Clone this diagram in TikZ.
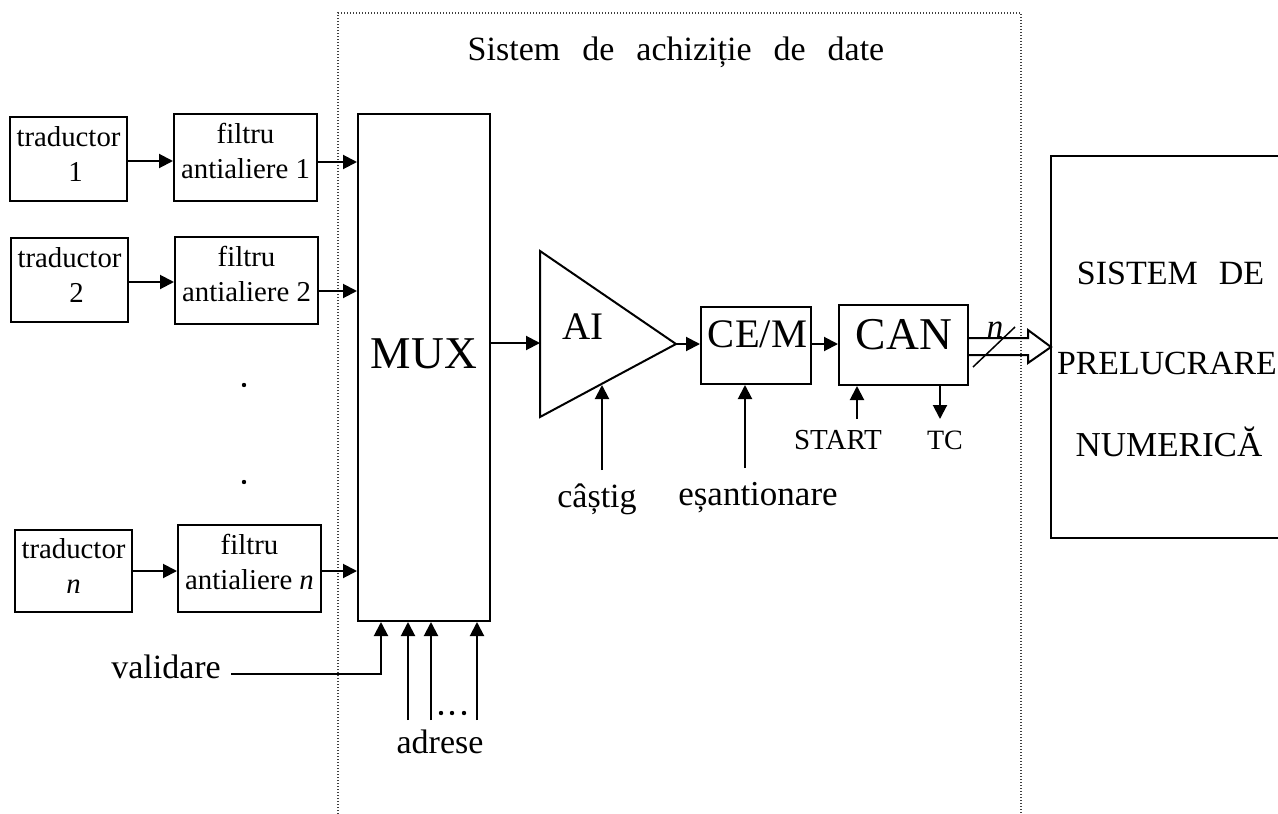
\documentclass[tikz,border=0pt]{standalone}
\usepackage{fontspec}
\setmainfont{Liberation Serif}
\usetikzlibrary{arrows.meta,calc}
\newcommand{\fsz}[1]{\fontsize{#1}{#1}\selectfont}
\tikzset{
  blk/.style={draw=black,line width=2pt,inner sep=0pt,align=center},
  trd/.style={font=\fontsize{28.8}{35}\selectfont,text depth=9pt},
  fil/.style={font=\fontsize{28.8}{35}\selectfont,text depth=14pt},
  lbl/.style={inner sep=0pt,anchor=base},
  arr/.style={line width=2pt,-{Triangle[length=14pt,width=14pt]}},
  dotb/.style={line width=1.1pt,dash pattern=on 1.2pt off 1.8pt,black!75},
}
\newcommand{\bxt}[7][]{% style,name,x1,y1,x2,y2,text
  \node[blk,#1,minimum width=#5pt-#3pt,minimum height=#6pt-#4pt] (#2) at ({(#3+#5)/2},{(#4+#6)/2}) {#7};}
\newcommand{\lb}[4]{\node[lbl] (#1) at (#2,#3) {#4};}
\begin{document}
\begin{tikzpicture}[x=1pt,y=-1pt]
\useasboundingbox (0,0) rectangle (1278,814);
\clip (0,0) rectangle (1278,814);
% acquisition frame
\coordinate (fa) at (338,814); \coordinate (fb) at (338,13);
\coordinate (fc) at (1021,13); \coordinate (fd) at (1021,814);
\draw[dotb] (fa) -- (fb) -- (fc) -- (fd);
\lb{title}{676}{60}{\fsz{34}\spaceskip=22pt Sistem de achiziție de date}
% boxes
\bxt[trd]{tr1}{10}{117}{127}{201}{traductor\\\hspace*{14pt}1}
\bxt[fil]{f1}{174}{114}{317}{201}{filtru\\antialiere 1}
\bxt[trd]{tr2}{11}{238}{128}{322}{traductor\\\hspace*{14pt}2}
\bxt[fil]{f2}{175}{237}{318}{324}{filtru\\antialiere 2}
\bxt[trd]{trn}{15}{530}{132}{612}{traductor\\\textit{n}}
\bxt[fil]{fn}{178}{525}{321}{612}{filtru\\antialiere \textit{n}}
\bxt{mux}{358}{114}{490}{621}{}
\lb{muxl}{424}{368}{\fsz{45.5}MUX}
\bxt{ce}{701}{307}{811}{384}{}
\lb{cel}{757.5}{347}{\fsz{40.5}CE/M}
\bxt{can}{839}{305}{968}{385}{}
\lb{canl}{904}{349}{\fsz{45.5}CAN}
% amplifier
\coordinate (aia) at (540,251); \coordinate (aib) at (540,417); \coordinate (aic) at (676,344);
\draw[line width=2pt,line join=miter] (aia) -- (aic) -- (aib) -- cycle;
\lb{ai}{583}{339}{\fsz{39}AI}
% processing block (cut by the page edge)
\coordinate (sa) at (1300,156); \coordinate (sb) at (1051,156);
\coordinate (sc) at (1051,538); \coordinate (sd) at (1300,538);
\draw[line width=2pt] (sa) -- (sb) -- (sc) -- (sd);
\lb{s1}{1170.5}{284}{\fsz{34}\spaceskip=21pt SISTEM DE}
\lb{s2}{1167}{374}{\fsz{33.8}PRELUCRARE}
\lb{s3}{1169}{456}{\fsz{35}NUMERICĂ}
% signal arrows
\draw[arr] (tr1.east |- 0,161) -- (f1.west |- 0,161);
\draw[arr] (f1.east |- 0,162) -- (mux.west |- 0,162);
\draw[arr] (tr2.east |- 0,282) -- (f2.west |- 0,282);
\draw[arr] (f2.east |- 0,291) -- (mux.west |- 0,291);
\draw[arr] (trn.east |- 0,571) -- (fn.west |- 0,571);
\draw[arr] (fn.east |- 0,571) -- (mux.west |- 0,571);
\draw[arr] (mux.east |- 0,343) -- (aia |- 0,343);
\draw[arr] (aic) -- (ce.west |- aic);
\draw[arr] (ce.east |- 0,344) -- (can.west |- 0,344);
% labels below
\lb{cas}{597}{507}{\fsz{34}câștig}
\lb{esa}{758}{505}{\fsz{35}eșantionare}
\lb{sta}{838}{449}{\fsz{29}START}
\lb{tc}{945}{449}{\fsz{28}TC}
\lb{val}{166}{678}{\fsz{34}validare}
\lb{adr}{440}{753}{\fsz{34}adrese}
\coordinate (cg) at (602,470); \coordinate (cgt) at (602,385);
\draw[arr] (cg) -- (cgt);
\coordinate (eg) at (745,468);
\draw[arr] (eg) -- (ce.south -| eg);
\coordinate (stg) at (857,419);
\draw[arr] (stg) -- (can.south -| stg);
\coordinate (tcg) at (940,419);
\draw[arr] (can.south -| tcg) -- (tcg);
\coordinate (vs) at (231,673.5); \coordinate (vt) at (381,673.5);
\draw[arr] (vs) -- (vt) -- (mux.south -| vt);
\coordinate (a1) at (408,720); \coordinate (a2) at (431,720); \coordinate (a3) at (477,720);
\draw[arr] (a1) -- (mux.south -| a1);
\draw[arr] (a2) -- (mux.south -| a2);
\draw[arr] (a3) -- (mux.south -| a3);
\foreach \x in {441,452,464} \fill[black] (\x,713) circle (2.2pt);
\fill[black] (244,385) circle (2.2pt);
\fill[black] (244,482) circle (2.2pt);
% bus
\coordinate (bt) at (1051,347);
\draw[line width=2pt,line join=miter] (can.east |- 0,338) -- (1028,338) -- (1028,330) -- (bt) -- (1028,363) -- (1028,355) -- (can.east |- 0,355);
\coordinate (sl1) at (973,367); \coordinate (sl2) at (1015,327);
\draw[line width=1.5pt] (sl1) -- (sl2);
\lb{nn}{995}{337}{\fsz{33}\textit{n}}
\end{tikzpicture}
\end{document}
